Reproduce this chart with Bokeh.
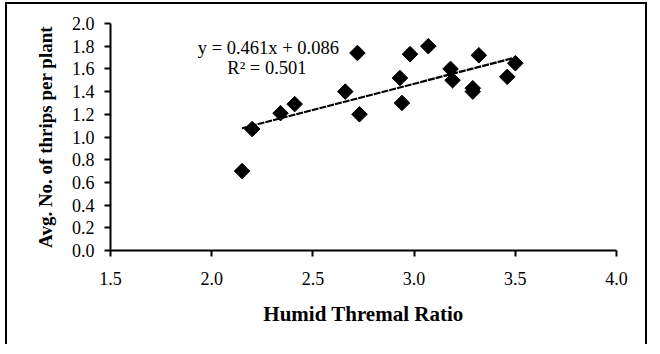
import numpy as np
from bokeh.plotting import figure
from bokeh.models import (FixedTicker, PrintfTickFormatter, Range1d, Label,
                          ColumnDataSource)
from bokeh.embed import file_html
from bokeh.resources import INLINE

# ---- data ----
humid_thermal_ratio = [2.15, 2.20, 2.34, 2.41, 2.66, 2.72, 2.73, 2.93, 2.94,
                       2.98, 3.07, 3.18, 3.19, 3.29, 3.29, 3.32, 3.46, 3.50]
thrips_per_plant = [0.70, 1.07, 1.21, 1.29, 1.40, 1.74, 1.20, 1.52, 1.30,
                    1.73, 1.80, 1.60, 1.50, 1.43, 1.40, 1.72, 1.53, 1.65]
trend_slope = 0.461
trend_intercept = 0.086
equation_text = "y = 0.461x + 0.086"
r2_text = "R² = 0.501"
x_ticks = [1.5, 2.0, 2.5, 3.0, 3.5, 4.0]
y_ticks = [0.0, 0.2, 0.4, 0.6, 0.8, 1.0, 1.2, 1.4, 1.6, 1.8, 2.0]
x_title = "Humid Thremal Ratio"
y_title = "Avg. No. of thrips per plant"

FONT = "Liberation Serif"

p = figure(width=642, height=342, x_range=Range1d(1.5, 4.0), y_range=Range1d(0, 2.0),
           output_backend="svg", toolbar_location=None,
           min_border_left=103, min_border_right=33, min_border_top=19,
           min_border_bottom=96, margin=(2, 0, -8, 5))
p.styles = {"border-top": "2px solid black", "border-left": "2px solid black",
            "border-right": "2px solid black"}
p.outline_line_color = None
p.grid.visible = False
p.background_fill_color = "white"
p.border_fill_color = "white"

for ax in (p.xaxis[0], p.yaxis[0]):
    ax.axis_line_width = 2
    ax.axis_line_color = "black"
    ax.major_tick_line_width = 2
    ax.major_tick_line_color = "black"
    ax.major_tick_in = 0
    ax.major_tick_out = 6
    ax.minor_tick_in = 0
    ax.minor_tick_out = 0
    ax.major_label_text_font = FONT
    ax.major_label_text_font_size = "18px"
    ax.major_label_text_color = "black"
    ax.axis_label_text_font = FONT
    ax.axis_label_text_font_style = "bold"
    ax.axis_label_text_color = "black"
    ax.formatter = PrintfTickFormatter(format="%.1f")

p.xaxis.ticker = FixedTicker(ticks=x_ticks)
p.yaxis.ticker = FixedTicker(ticks=y_ticks)
p.xaxis.axis_label = x_title
p.yaxis.axis_label = y_title
p.xaxis.axis_label_text_font_size = "21px"
p.yaxis.axis_label_text_font_size = "19px"
p.xaxis.major_label_standoff = 15
p.xaxis.axis_label_standoff = 14
p.yaxis.major_label_standoff = 10
p.yaxis.axis_label_standoff = 13

# trend line over the data span
xs = np.array([min(humid_thermal_ratio), max(humid_thermal_ratio)])
p.line(xs, trend_slope * xs + trend_intercept, line_color="black",
       line_width=2.2, line_dash="7 1")

src = ColumnDataSource(dict(x=humid_thermal_ratio, y=thrips_per_plant))
p.scatter("x", "y", source=src, marker="square", angle=np.pi / 4, size=11,
          fill_color="black", line_color="black")

p.add_layout(Label(x=2.28, y=1.786, text=equation_text, text_align="center",
                   text_baseline="middle", text_font=FONT, text_font_size="18.5px",
                   text_color="black"))
p.add_layout(Label(x=2.273, y=1.611, text=r2_text, text_align="center",
                   text_baseline="middle", text_font=FONT, text_font_size="18.5px",
                   text_color="black"))

open("out.html", "w").write(file_html(p, INLINE))
